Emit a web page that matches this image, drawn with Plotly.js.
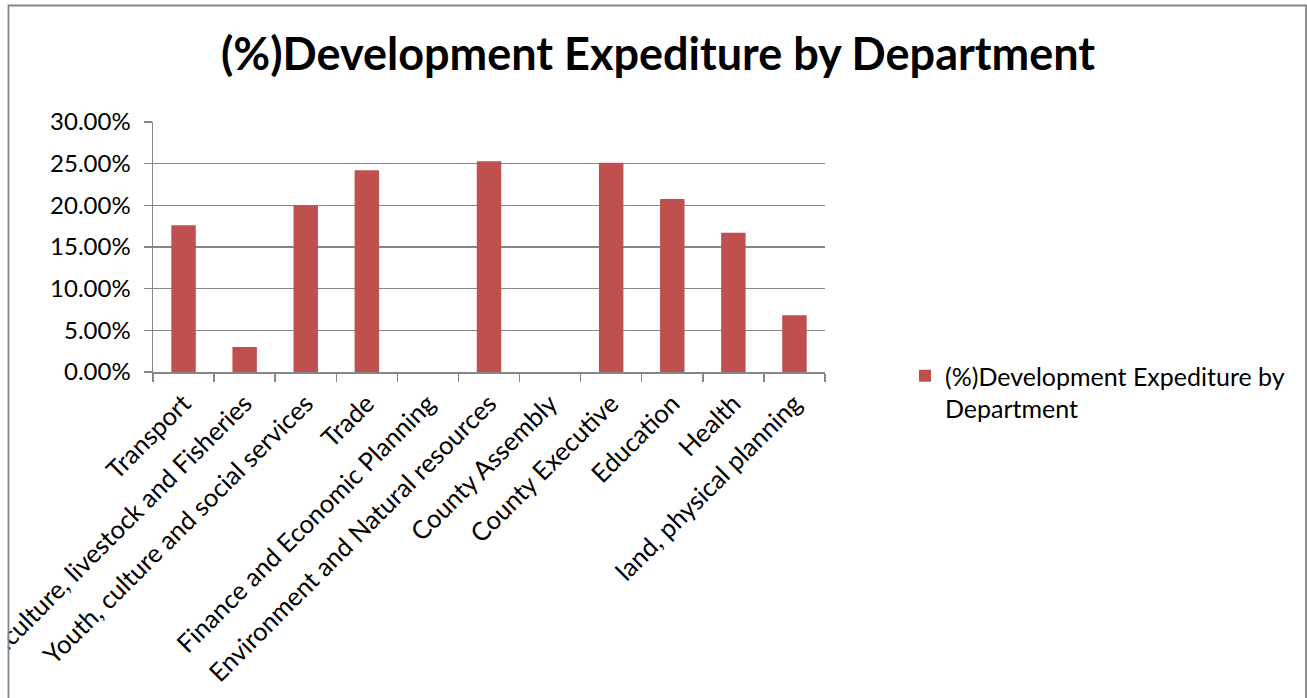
<!DOCTYPE html>
<html>
<head>
<meta charset="utf-8">
<script src="https://cdn.plot.ly/plotly-3.0.1.min.js"></script>
<style>
html,body{margin:0;padding:0;background:#fff;}
#chart{width:1307px;height:698px;}
</style>
</head>
<body>
<div id="chart"></div>
<script>
// Data
const departments = [
  "Transport",
  "Agriculture, livestock and Fisheries",
  "Youth, culture and social services",
  "Trade",
  "Finance and Economic Planning",
  "Environment and Natural resources",
  "County Assembly",
  "County Executive",
  "Education",
  "Health",
  "land, physical planning"
];
const expenditureShare = [0.176, 0.030, 0.200, 0.242, 0, 0.253, 0, 0.251, 0.2075, 0.167, 0.068];
const seriesName = "(%)Development Expediture by<br>Department";
const chartTitle = "(%)Development Expediture by Department";

const FONT = "Lato, 'Open Sans', sans-serif";
const GRID = "#868686";

const trace = {
  type: "bar",
  x: departments,
  y: expenditureShare,
  name: seriesName,
  marker: {color: "#C0504D", line: {width: 0}},
  showlegend: true,
  hoverinfo: "x+y"
};

// plot area: x 153..825, y 122..372
const L = 153, R = 825, T = 122, B = 372;
const px = v => (v - L) / (R - L);
const py = v => (B - v) / (B - T);

const layout = {
  width: 1307, height: 698,
  paper_bgcolor: "#fff", plot_bgcolor: "#fff",
  margin: {l: L, r: 1307 - R, t: T, b: 698 - B, pad: 0},
  font: {family: FONT, size: 24, color: "#000"},
  title: {
    text: "<b>" + chartTitle + "</b>",
    font: {family: FONT, size: 45, color: "#000"},
    x: 658 / 1307, xanchor: "center", xref: "container",
    y: 1 - 54 / 698, yanchor: "middle", yref: "container"
  },
  bargap: 0.6,
  xaxis: {
    type: "category",
    showgrid: false,
    showline: true, linecolor: GRID, linewidth: 1.5,
    ticks: "outside", ticklen: 8, tickcolor: GRID, tickwidth: 1.5,
    tickson: "boundaries",
    tickangle: -45,
    ticklabelstandoff: 5,
    tickfont: {family: FONT, size: 25.5, color: "#000"},
    automargin: false,
    fixedrange: true
  },
  yaxis: {
    range: [0, 0.3],
    dtick: 0.05, tick0: 0,
    tickformat: ".2%",
    showgrid: true, gridcolor: GRID, gridwidth: 1.5,
    zeroline: false,
    showline: true, linecolor: GRID, linewidth: 1.5,
    ticks: "outside", ticklen: 8, tickcolor: GRID, tickwidth: 1.5,
    ticklabelstandoff: 8,
    tickfont: {family: FONT, size: 24, color: "#000"},
    automargin: false,
    fixedrange: true
  },
  legend: {
    x: px(905), xanchor: "left",
    y: py(353), yanchor: "top",
    font: {family: FONT, size: 25, color: "#000"},
    bgcolor: "rgba(0,0,0,0)",
    borderwidth: 0,
    valign: "top",
    itemwidth: 30
  },
  shapes: [
    {type: "rect", xref: "paper", yref: "paper", layer: "above",
     x0: px(-20), x1: px(7.8), y0: py(720), y1: py(-20),
     fillcolor: "#fff", line: {width: 0}},
    {type: "rect", xref: "paper", yref: "paper", layer: "above",
     x0: px(8.5), x1: px(1306), y0: py(720), y1: py(5.5),
     fillcolor: "rgba(0,0,0,0)", line: {color: GRID, width: 1.8}}
  ]
};

Plotly.newPlot("chart", [trace], layout, {displayModeBar: false, staticPlot: true});
</script>
</body>
</html>
